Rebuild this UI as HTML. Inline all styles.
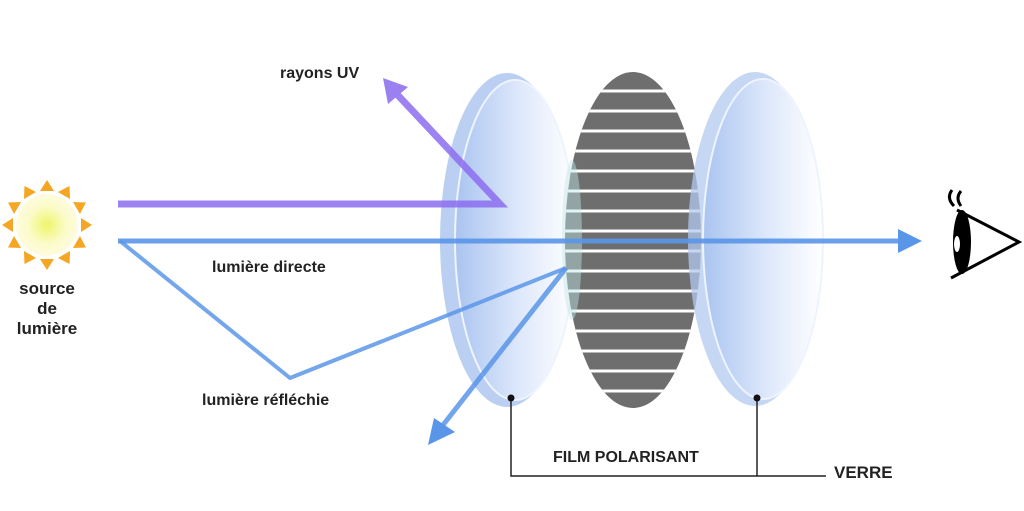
<!DOCTYPE html>
<html><head><meta charset="utf-8"><style>
html,body{margin:0;padding:0;background:#fff;}
svg{display:block}
text{font-family:"Liberation Sans",sans-serif;font-weight:bold;fill:#222;}
</style></head><body>
<svg width="1024" height="511" viewBox="0 0 1024 511" xmlns="http://www.w3.org/2000/svg">
<defs>
<radialGradient id="sun" cx="0.5" cy="0.5" r="0.5"><stop offset="0" stop-color="#eef56a"/><stop offset="0.6" stop-color="#fbfbc8"/><stop offset="1" stop-color="#fffbe0"/></radialGradient>
<linearGradient id="lens" x1="0" x2="1" y1="0" y2="0"><stop offset="0" stop-color="#aac4f0"/><stop offset="0.55" stop-color="#dfe9fb"/><stop offset="1" stop-color="#ffffff"/></linearGradient>
<clipPath id="film"><ellipse cx="633" cy="240" rx="68" ry="168"/></clipPath>
</defs>
<!-- sun -->
<g fill="#f5a623" transform="translate(47,225)">
<polygon id="ray" points="45,0 34,-7 34,7"/>
<use href="#ray" transform="rotate(30)"/><use href="#ray" transform="rotate(60)"/>
<use href="#ray" transform="rotate(90)"/><use href="#ray" transform="rotate(120)"/>
<use href="#ray" transform="rotate(150)"/><use href="#ray" transform="rotate(180)"/>
<use href="#ray" transform="rotate(210)"/><use href="#ray" transform="rotate(240)"/>
<use href="#ray" transform="rotate(270)"/><use href="#ray" transform="rotate(300)"/>
<use href="#ray" transform="rotate(330)"/>
</g>
<circle cx="47" cy="225" r="31" fill="url(#sun)"/>
<text x="47" y="294" font-size="17" text-anchor="middle">source</text>
<text x="47" y="314" font-size="17" text-anchor="middle">de</text>
<text x="47" y="334" font-size="17" text-anchor="middle">lumière</text>
<!-- left lens -->
<ellipse cx="507" cy="240" rx="67" ry="167" fill="#b3caf0" opacity="0.9"/>
<ellipse cx="515" cy="240" rx="60" ry="160" fill="url(#lens)" stroke="#eef4ff" stroke-width="2"/>
<!-- film -->
<ellipse cx="633" cy="240" rx="68" ry="168" fill="#6e6e6e"/>
<g clip-path="url(#film)" stroke="#fff" stroke-width="3">
<line x1="560" x2="710" y1="91" y2="91"/><line x1="560" x2="710" y1="111" y2="111"/>
<line x1="560" x2="710" y1="131" y2="131"/><line x1="560" x2="710" y1="151" y2="151"/>
<line x1="560" x2="710" y1="171" y2="171"/><line x1="560" x2="710" y1="191" y2="191"/>
<line x1="560" x2="710" y1="211" y2="211"/><line x1="560" x2="710" y1="231" y2="231"/>
<line x1="560" x2="710" y1="251" y2="251"/><line x1="560" x2="710" y1="271" y2="271"/>
<line x1="560" x2="710" y1="291" y2="291"/><line x1="560" x2="710" y1="311" y2="311"/>
<line x1="560" x2="710" y1="331" y2="331"/><line x1="560" x2="710" y1="351" y2="351"/>
<line x1="560" x2="710" y1="371" y2="371"/><line x1="560" x2="710" y1="391" y2="391"/>
</g>
<ellipse cx="572" cy="240" rx="10" ry="80" fill="#bfe6e6" opacity="0.45"/>
<!-- right lens -->
<ellipse cx="755" cy="239" rx="67" ry="167" fill="#b3caf0" opacity="0.75"/>
<ellipse cx="763" cy="239" rx="60" ry="160" fill="url(#lens)" stroke="#eef4ff" stroke-width="2"/>
<!-- UV ray -->
<polyline points="118,204 500,204 393,90" fill="none" stroke="#8c6cf0" stroke-width="7" opacity="0.85"/>
<polygon points="383,78 408,87 388,104" fill="#9a80f0"/>
<!-- direct -->
<line x1="118" y1="241" x2="902" y2="241" stroke="#5a96e8" stroke-width="5" opacity="0.9"/>
<polygon points="922,241 898,229 898,253" fill="#5a96e8"/>
<!-- reflected -->
<polyline points="120,241 290,378 566,268" fill="none" stroke="#5a96e8" stroke-width="4" stroke-linejoin="round" opacity="0.85"/>
<line x1="566" y1="268" x2="443" y2="425" stroke="#5a96e8" stroke-width="5" opacity="0.85"/>
<polygon points="428,445 434,418 455,432" fill="#5a96e8"/>
<text x="212" y="272" font-size="16">lumière directe</text>
<text x="202" y="405" font-size="16">lumière réfléchie</text>
<text x="280" y="78" font-size="16">rayons UV</text>
<!-- pointers -->
<g stroke="#222" stroke-width="1.5" fill="none"><polyline points="511,398 511,476 826,476"/><line x1="757" y1="398" x2="757" y2="476"/></g>
<circle cx="511" cy="398" r="3.5" fill="#111"/><circle cx="757" cy="398" r="3.5" fill="#111"/>
<text x="553" y="462" font-size="16">FILM POLARISANT</text>
<text x="834" y="478" font-size="17">VERRE</text>
<!-- eye -->
<g stroke="#000" fill="none" stroke-width="3">
<polyline points="957,210 1019,242 951,278"/>
<path d="M954,206 q-8,-8 -2,-16"/><path d="M961,206 q-6,-8 0,-15"/>
</g>
<ellipse cx="962" cy="242" rx="9" ry="32" fill="#000"/>
<ellipse cx="957" cy="244" rx="3" ry="8" fill="#fff"/>
</svg>
</body></html>
